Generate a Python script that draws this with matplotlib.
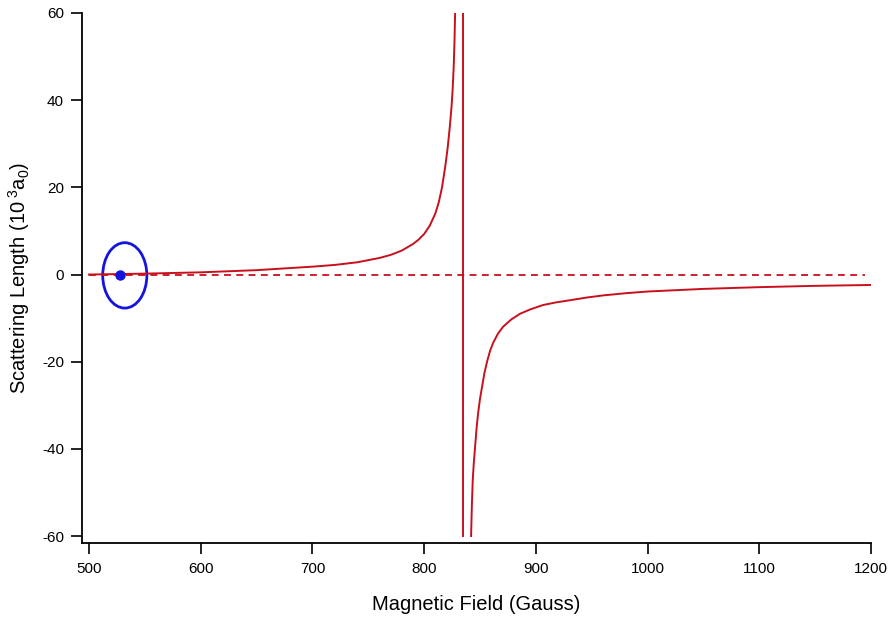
import matplotlib
matplotlib.use("Agg")
import matplotlib.pyplot as plt
from matplotlib.patches import Ellipse

plt.rcParams['font.family'] = ['Liberation Sans', 'DejaVu Sans']
plt.rcParams['mathtext.fontset'] = 'custom'
plt.rcParams['mathtext.rm'] = 'Liberation Sans'
plt.rcParams['mathtext.it'] = 'Liberation Sans'
plt.rcParams['axes.unicode_minus'] = False

# Data (field in Gauss, scattering length in 10^3 a0)
field_below = [500, 550, 600, 650, 700, 720, 740, 760, 770, 780, 790, 795, 800,
               805, 810, 813, 816, 819, 821, 823, 824.5, 825.5, 826.5, 827.2, 827.7]
length_below = [0.0, 0.2, 0.5, 1.0, 1.8, 2.2, 2.8, 3.8, 4.5, 5.5, 7.0, 8.0, 9.3,
                11.2, 14.0, 16.5, 20.0, 25.0, 29.0, 34.0, 38.5, 42.5, 48.0, 54.0, 60.0]

field_above = [842.0, 842.7, 843.5, 844.5, 845.6, 847, 848.3, 850, 851.8, 854,
               856.3, 859, 861.7, 866, 870.6, 878, 885.9, 895, 906.4, 918, 930.6,
               945, 960, 980, 1000, 1025, 1050, 1075, 1100, 1150, 1200]
length_above = [-60.0, -53.0, -47.0, -43.0, -39.5, -35.0, -31.8, -28.5, -25.8,
                -22.5, -20.0, -17.5, -15.7, -13.6, -12.0, -10.3, -9.0, -8.0, -7.0,
                -6.4, -5.9, -5.3, -4.8, -4.3, -3.9, -3.6, -3.3, -3.1, -2.9, -2.6,
                -2.4]

resonance_field = [834.6, 834.6]
resonance_span = [-60, 60]

zero_field = [500, 1195]
zero_line = [0, 0]

zero_crossing_field = [528]
zero_crossing_length = [0]
circle_center = (532, -0.2)
circle_size = (39.5, 15.0)

x_ticks = [500, 600, 700, 800, 900, 1000, 1100, 1200]
y_ticks = [-60, -40, -20, 0, 20, 40, 60]

red = '#c8101c'
blue = '#1414dc'

fig = plt.figure(figsize=(8.93, 6.21), dpi=100)
ax = fig.add_axes([82/893, 1-543/621, (871-82)/893, (543-13)/621])

ax.plot(zero_field, zero_line, color=red, lw=1.3, dashes=(3.8, 3.0))
ax.plot(field_below, length_below, color=red, lw=1.4)
ax.plot(field_above, length_above, color=red, lw=1.4)
ax.plot(resonance_field, resonance_span, color=red, lw=1.4)

ax.plot(zero_crossing_field, zero_crossing_length, 'o', color=blue, ms=6.5, mec=blue)
ax.add_patch(Ellipse(circle_center, circle_size[0], circle_size[1], fill=False,
                     edgecolor=blue, lw=2.0))

ax.set_xlim(493.7, 1200)
ax.set_ylim(-61.6, 60)
ax.set_xticks(x_ticks)
ax.set_yticks(y_ticks)
ax.set_xticklabels([str(v) for v in x_ticks])
ax.set_yticklabels([str(v) for v in y_ticks])

for s in ['top', 'right']:
    ax.spines[s].set_visible(False)
for s in ['left', 'bottom']:
    ax.spines[s].set_linewidth(1.3)

ax.tick_params(axis='both', direction='out', length=8, width=1.2, labelsize=11)
ax.tick_params(axis='x', pad=6)
ax.tick_params(axis='y', pad=5)

ax.set_xlabel('Magnetic Field (Gauss)', fontsize=14.5, labelpad=13)
ax.set_ylabel(r'Scattering Length (10$^{\ 3}$a$_{0}$)', fontsize=14.5, labelpad=7)

fig.savefig('out.png', dpi=100, facecolor='white')
